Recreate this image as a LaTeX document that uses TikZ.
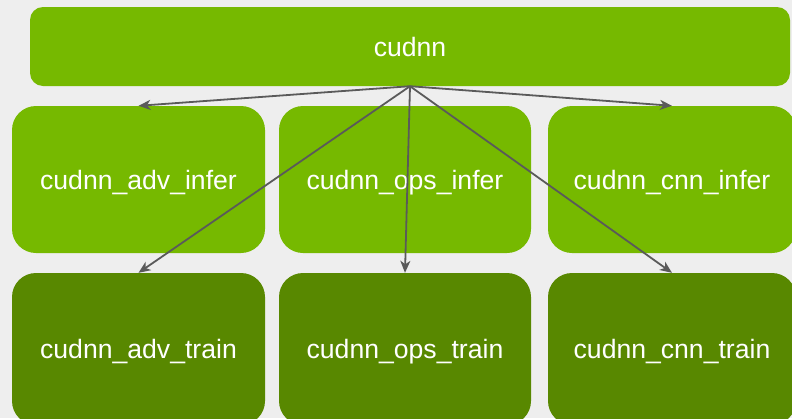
\documentclass[tikz,border=0pt]{standalone}
\usepackage{fontspec}
\setmainfont{Liberation Sans}
\usetikzlibrary{arrows.meta}
\definecolor{bg}{HTML}{EEEEEE}
\definecolor{nvlight}{HTML}{76B900}
\definecolor{nvdark}{HTML}{588800}
\definecolor{arr}{HTML}{5A5A5A}
\begin{document}
\begin{tikzpicture}[x=1pt,y=-1pt,
  box/.style={draw=none, rounded corners=#1, inner sep=0pt, text=white,
    text depth=0pt, font=\fontsize{26.6}{30}\selectfont},
  lightbox/.style={box=24pt, fill=nvlight},
  darkbox/.style={box=24pt, fill=nvdark},
  link/.style={draw=arr, line width=1.8pt, -{Stealth[length=12pt,width=10pt,inset=3.5pt]}}]
\fill[bg] (0,0) rectangle (792,418);
\useasboundingbox (0,0) rectangle (792,418);
\clip (0,0) rectangle (792,418);
% top bar
\node[box=13pt, fill=nvlight, minimum width=760pt, minimum height=79pt] (top) at (410,46.5) {cudnn};
% middle row
\node[lightbox, minimum width=253pt, minimum height=147pt] (advi) at (138.5,179.5) {cudnn\_adv\_infer};
\node[lightbox, minimum width=252pt, minimum height=147pt] (opsi) at (405,179.5) {cudnn\_ops\_infer};
\node[lightbox, minimum width=248pt, minimum height=147pt] (cnni) at (672,179.5) {cudnn\_cnn\_infer};
% bottom row
\node[darkbox, minimum width=253pt, minimum height=152pt] (advt) at (138.5,349) {cudnn\_adv\_train};
\node[darkbox, minimum width=252pt, minimum height=152pt] (opst) at (405,349) {cudnn\_ops\_train};
\node[darkbox, minimum width=248pt, minimum height=152pt] (cnnt) at (672,349) {cudnn\_cnn\_train};
% connectors
\draw[link] (top.south) -- (advi.north);
\draw[link] (top.south) -- (cnni.north);
\draw[link] (top.south) -- (advt.north);
\draw[link] (top.south) -- (opst.north);
\draw[link] (top.south) -- (cnnt.north);
\end{tikzpicture}
\end{document}
